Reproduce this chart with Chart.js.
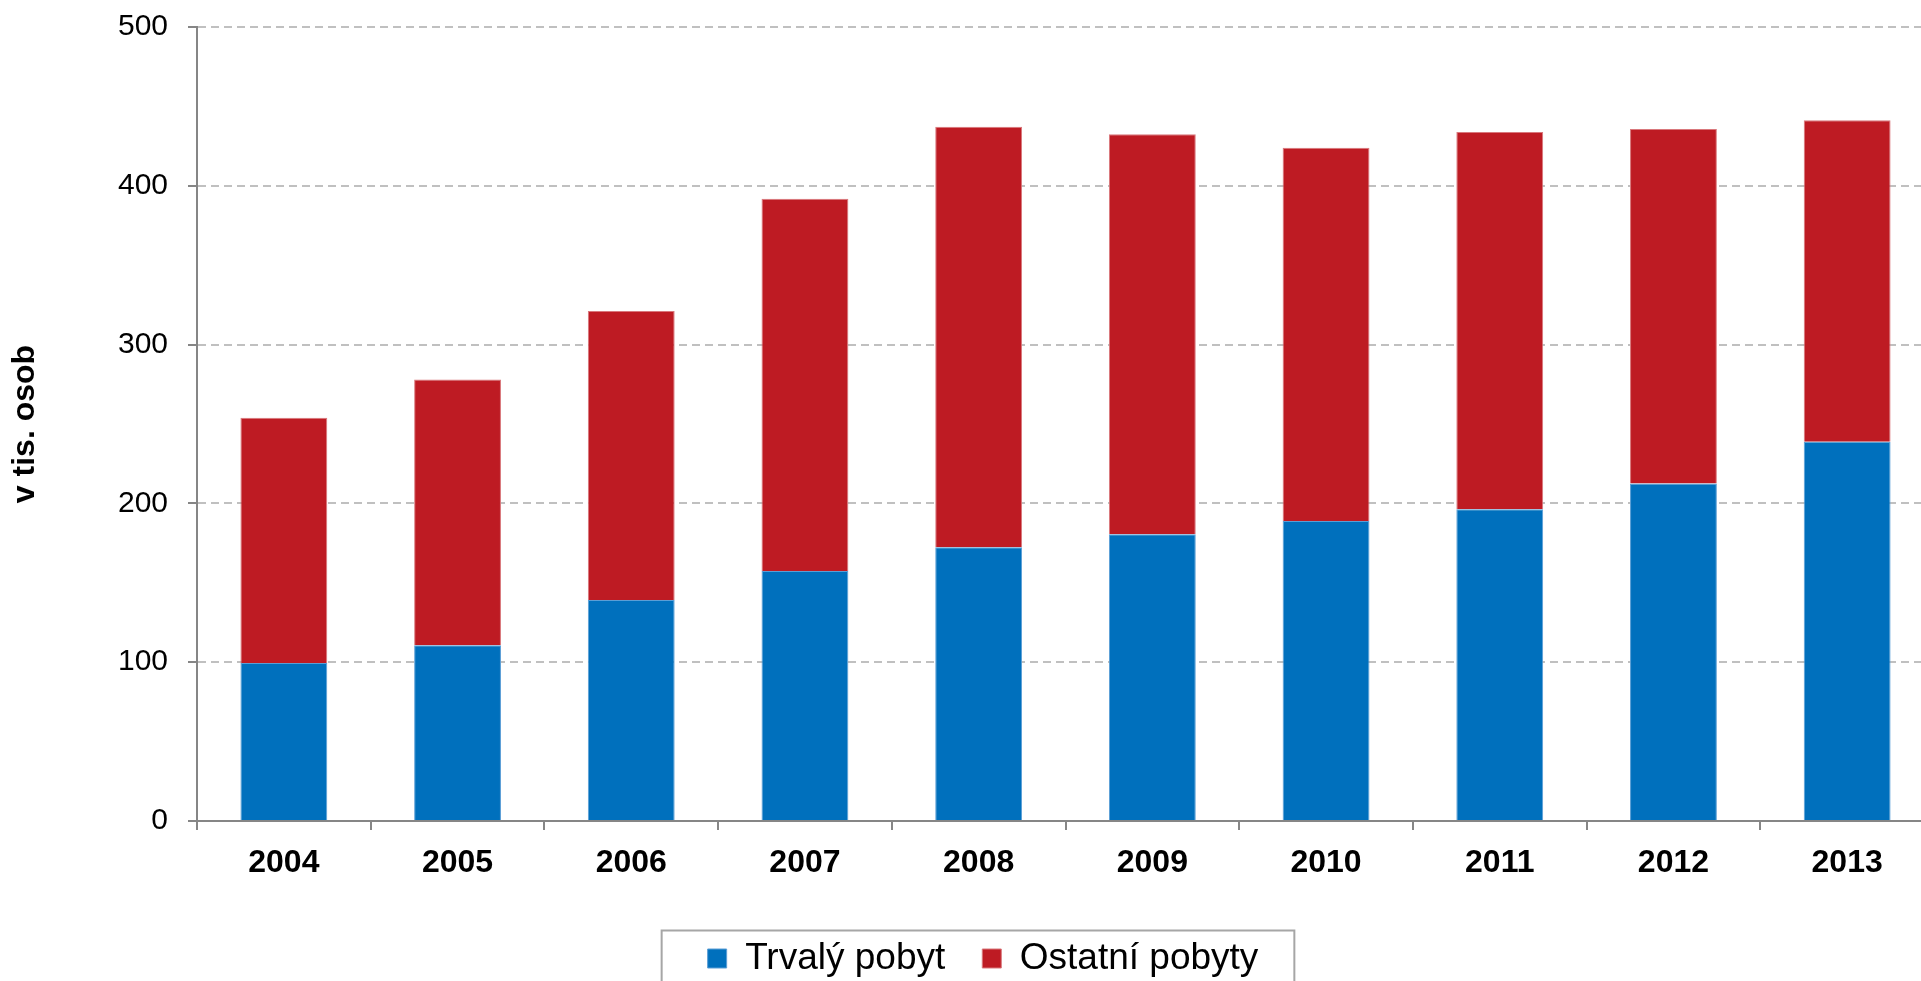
<!DOCTYPE html>
<html>
<head>
<meta charset="utf-8">
<script src="https://cdn.jsdelivr.net/npm/chart.js@4.4.0/dist/chart.umd.min.js"></script>
<style>
  html, body { margin: 0; padding: 0; overflow: hidden; background: #fff; }
</style>
</head>
<body>
<canvas id="grafCizinci" width="1940" height="981"></canvas>
<script>
// data (tis. osob)
const roky = ["2004", "2005", "2006", "2007", "2008", "2009", "2010", "2011", "2012", "2013"];
const trvalyPobyt = [99.5, 110.6, 139.2, 157.4, 172.4, 180.5, 188.9, 196.3, 212.5, 238.8];
const ostatniPobyty = [154.5, 167.5, 182.0, 234.5, 264.8, 251.9, 235.1, 237.6, 223.3, 202.4];
const osaY = [0, 100, 200, 300, 400, 500];

const pismo = "'Liberation Sans', Arial, Helvetica, sans-serif";

// posune legendu a nakresli kolem ni ramecek
const legendaRamecek = {
  id: "legendaRamecek",
  beforeDraw(chart) {
    const leg = chart.legend;
    leg.left = 0;
    leg.right = 1966;
    leg.top = 903;
  },
  afterDraw(chart) {
    const leg = chart.legend;
    const pad = leg.options.labels.padding;
    const sirka = leg.lineWidths[0] - pad;
    const stred = (leg.left + leg.right) / 2;
    const stredTextu = leg.top + pad + leg.options.labels.font.size / 2;
    const ctx = chart.ctx;
    ctx.save();
    ctx.strokeStyle = "#a6a6a6";
    ctx.lineWidth = 2;
    ctx.strokeRect(stred - sirka / 2 - 46, stredTextu - 28, sirka + 46 + 36, 120);
    ctx.restore();
  }
};

const data = {
  labels: roky,
  datasets: [
    {
      label: "Trvalý pobyt",
      data: trvalyPobyt,
      backgroundColor: "#0070bd",
      borderColor: "#5a9ed6",
      borderWidth: 1
    },
    {
      label: "Ostatní pobyty",
      data: ostatniPobyty,
      backgroundColor: "#be1b23",
      borderColor: "#d9787c",
      borderWidth: 1
    }
  ]
};

const config = {
  type: "bar",
  data: data,
  plugins: [legendaRamecek],
  options: {
    responsive: false,
    animation: false,
    barPercentage: 0.5,
    categoryPercentage: 1,
    layout: { padding: { top: 27, right: 6, left: 0, bottom: 0 } },
    plugins: {
      legend: {
        position: "bottom",
        maxHeight: 50,
        labels: {
          font: { family: pismo, size: 37 },
          color: "#000",
          boxWidth: 19,
          boxHeight: 19,
          padding: 37
        }
      },
      tooltip: { enabled: false }
    },
    scales: {
      x: {
        stacked: true,
        grid: {
          offset: true,
          drawOnChartArea: false,
          drawTicks: true,
          tickLength: 9,
          color: "#868686",
          lineWidth: 2
        },
        border: { color: "#868686", width: 2 },
        ticks: {
          font: { family: pismo, size: 32, weight: "bold" },
          color: "#000",
          padding: 14,
          maxRotation: 0
        },
        afterFit: (s) => { s.height = 160 - s.chart.legend.height; }
      },
      y: {
        stacked: true,
        min: osaY[0],
        max: osaY[osaY.length - 1],
        afterBuildTicks: (s) => { s.ticks = osaY.map(v => ({ value: v })); },
        ticks: {
          font: { family: pismo, size: 30 },
          color: "#000",
          padding: 20
        },
        grid: {
          color: "#c0c0c0",
          lineWidth: 2,
          tickColor: "#868686",
          tickLength: 9,
          tickWidth: 2
        },
        border: { display: true, color: "#868686", width: 2, dash: [8, 5] },
        title: {
          display: true,
          text: "v tis. osob",
          font: { family: pismo, size: 32, weight: "bold" },
          color: "#000",
          padding: { top: 6 }
        },
        afterFit: (s) => {
          s.width = 197;
          s.paddingTop = 0;
          s.paddingBottom = 0;
        }
      }
    }
  }
};

const myChart = new Chart(document.getElementById("grafCizinci"), config);
</script>
</body>
</html>
